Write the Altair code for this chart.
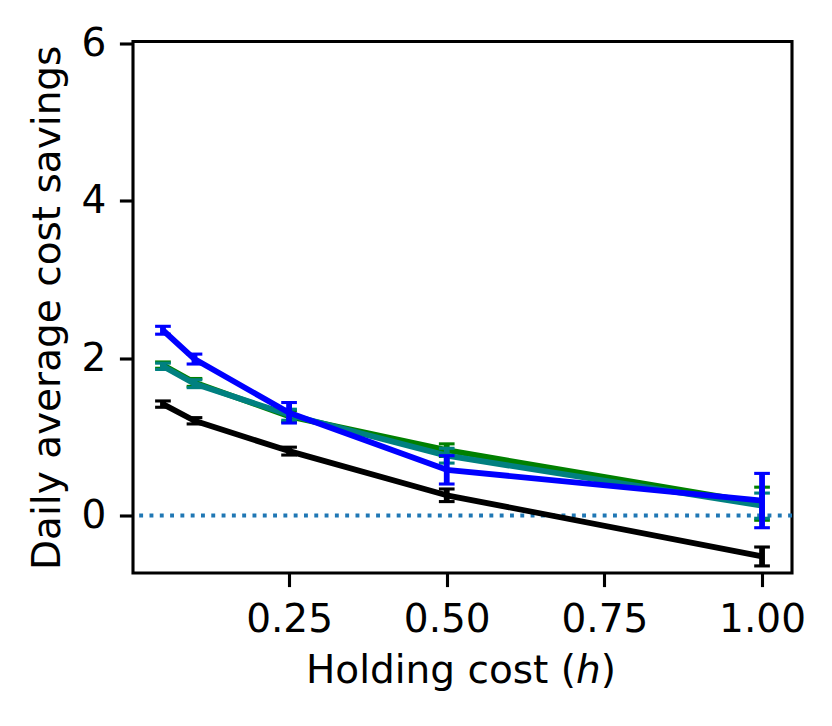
import altair as alt
import pandas as pd

# ---- data ----
h = [0.05, 0.1, 0.25, 0.5, 1.0]
series = ["black", "green", "teal", "blue"]
colors = ["#000000", "#008000", "#008080", "#0000ff"]

black_mean = [1.415, 1.203, 0.818, 0.257, -0.52]
black_err = [0.04, 0.04, 0.05, 0.08, 0.12]
green_mean = [1.91, 1.69, 1.26, 0.83, 0.15]
green_err = [0.04, 0.05, 0.07, 0.08, 0.21]
teal_mean = [1.895, 1.674, 1.28, 0.76, 0.125]
teal_err = [0.04, 0.05, 0.07, 0.094, 0.16]
blue_mean = [2.353, 1.987, 1.305, 0.58, 0.19]
blue_err = [0.05, 0.063, 0.13, 0.18, 0.345]

x_ticks = [0.25, 0.5, 0.75, 1.0]
y_ticks = [0, 2, 4, 6]
x_domain = [0.0025, 1.0475]
y_domain = [-0.73, 6.02]
y_title = "Daily average cost savings"
x_title_parts = ["Holding cost (", "h", ")"]

means = [black_mean, green_mean, teal_mean, blue_mean]
errs = [black_err, green_err, teal_err, blue_err]

rows = []
for s, ms, es in zip(series, means, errs):
    for xv, m, e in zip(h, ms, es):
        rows.append({"series": s, "h": xv, "mean": m, "lo": m - e, "hi": m + e})
df = pd.DataFrame(rows)

FONT = "DejaVu Sans"
FS = 39
LW = 5.8

xs = alt.Scale(domain=x_domain, nice=False, zero=False)
ys = alt.Scale(domain=y_domain, nice=False, zero=False)
xaxis = alt.Axis(values=x_ticks, format=".2f", title=None)
yaxis = alt.Axis(values=y_ticks, format="d")


def X():
    return alt.X("h:Q", scale=xs, axis=xaxis, title=None)


def Y(field):
    return alt.Y(field, type="quantitative", scale=ys, axis=yaxis, title=y_title)


layers = []
zero_df = pd.DataFrame({"mean": [0]})
layers.append(
    alt.Chart(zero_df).mark_rule(color="#1f77b4", strokeWidth=3.9, strokeDash=[3.9, 6.4]).encode(
        y=Y("mean")
    )
)

for s, c in zip(series, colors):
    d = df[df["series"] == s]
    base = alt.Chart(d)
    layers.append(
        base.mark_line(color=c, strokeWidth=LW, strokeJoin="round", strokeCap="butt").encode(
            x=X(), y=Y("mean")
        )
    )
    layers.append(base.mark_rule(color=c, strokeWidth=LW).encode(x=X(), y=Y("lo"), y2="hi:Q"))
    layers.append(
        base.mark_tick(color=c, orient="horizontal", size=15.7, thickness=3.1, opacity=1).encode(
            x=X(), y=Y("lo")
        )
    )
    layers.append(
        base.mark_tick(color=c, orient="horizontal", size=15.7, thickness=3.1, opacity=1).encode(
            x=X(), y=Y("hi")
        )
    )

# x-axis title with italic "h"
title_y = 641.5
layers.append(
    alt.Chart(pd.DataFrame({"t": [x_title_parts[0]]}))
    .mark_text(align="right", baseline="alphabetic", fontSize=FS, font=FONT, color="black")
    .encode(x=alt.value(443), y=alt.value(title_y), text="t:N")
)
layers.append(
    alt.Chart(pd.DataFrame({"t": [x_title_parts[1]]}))
    .mark_text(align="left", baseline="alphabetic", fontSize=FS, font=FONT, fontStyle="italic", color="black")
    .encode(x=alt.value(443), y=alt.value(title_y), text="t:N")
)
layers.append(
    alt.Chart(pd.DataFrame({"t": [x_title_parts[2]]}))
    .mark_text(align="left", baseline="alphabetic", fontSize=FS, font=FONT, color="black")
    .encode(x=alt.value(467.7), y=alt.value(title_y), text="t:N")
)

chart = (
    alt.layer(*layers)
    .properties(
        width=659,
        height=531.5,
        autosize=alt.AutoSizeParams(type="none"),
        padding={"left": 125, "top": 33.5, "right": 30, "bottom": 140},
    )
    .configure_view(stroke="black", strokeWidth=3.1)
    .configure_axis(
        grid=False,
        domain=False,
        ticks=True,
        tickSize=13.6,
        tickWidth=3.1,
        tickColor="black",
        labelFont=FONT,
        labelFontSize=FS,
        labelColor="black",
        labelPadding=13.6,
        titleFont=FONT,
        titleFontSize=FS,
        titleFontWeight="normal",
        titleColor="black",
    )
    .configure_axisY(titleX=-74, titleBaseline="alphabetic", titleAngle=270, titleAlign="center")
)

chart.save("out.html", embed_options={"renderer": "svg", "actions": False})
